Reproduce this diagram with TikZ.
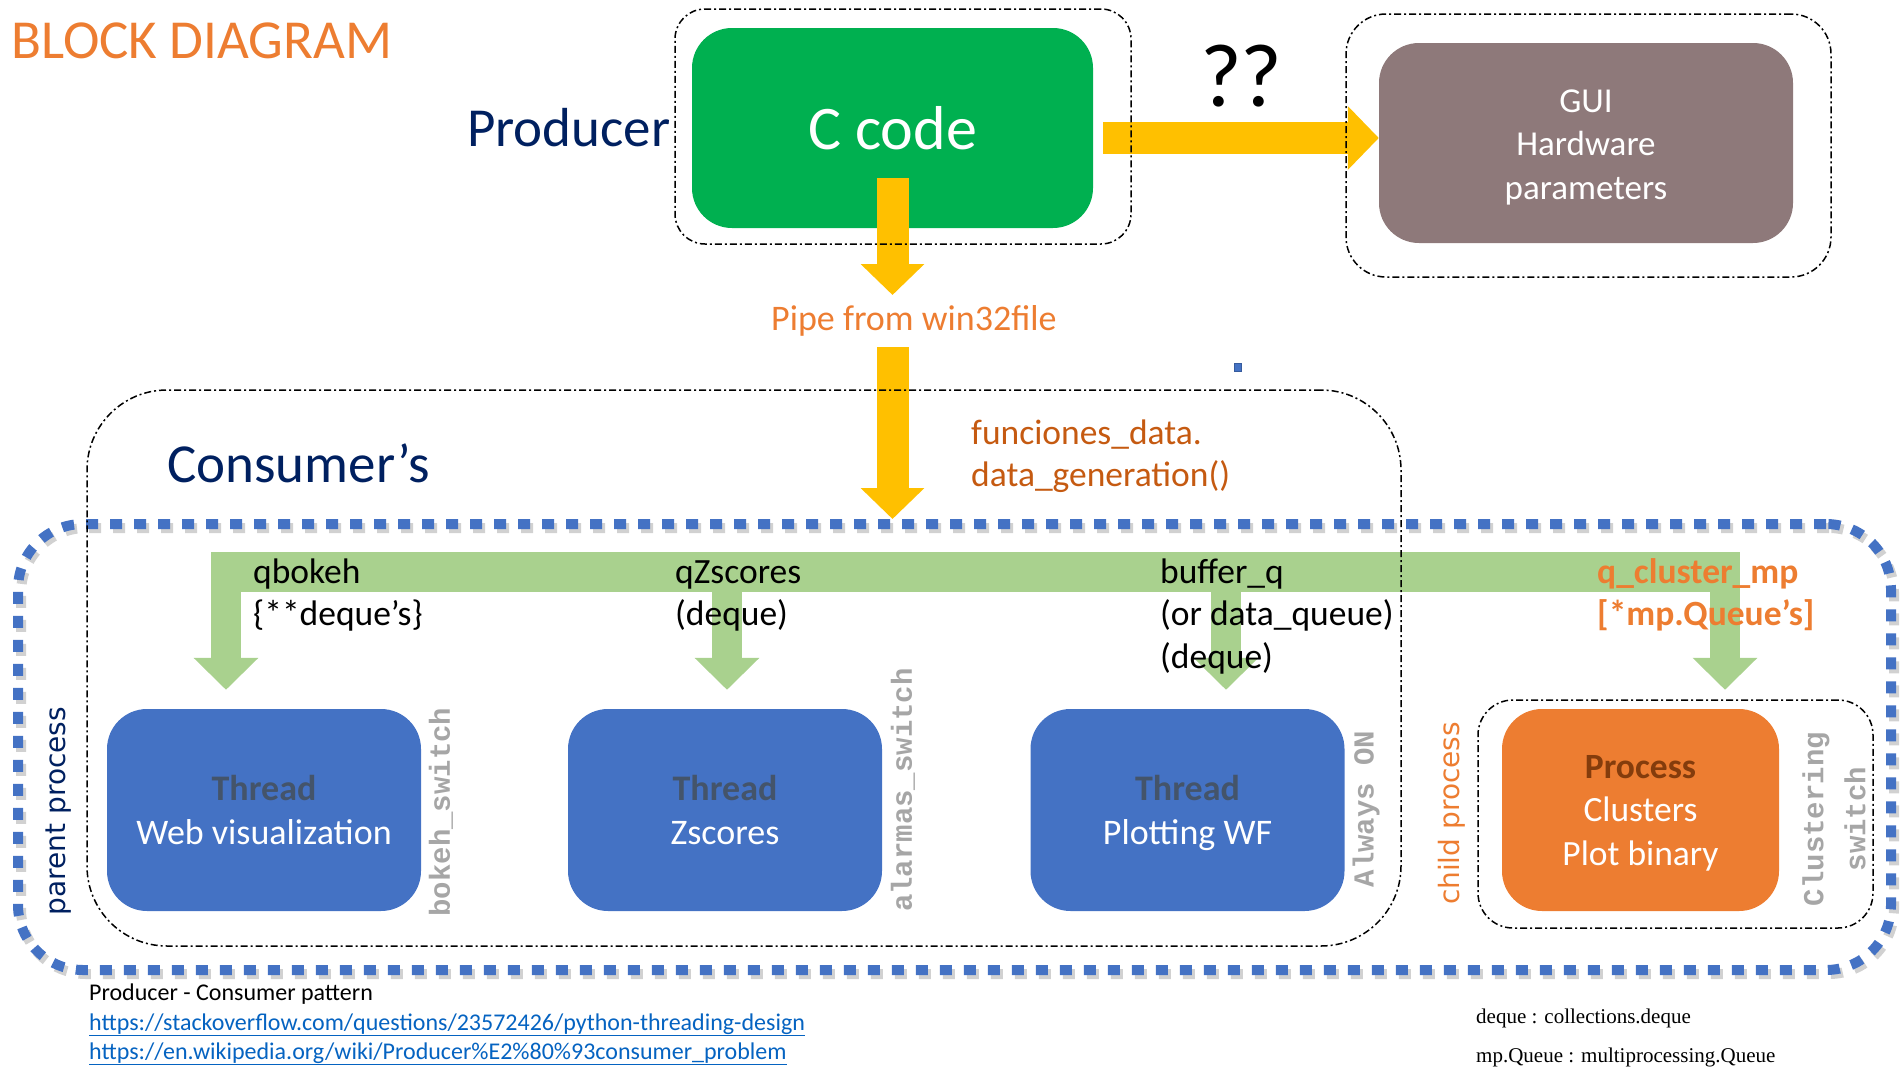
\documentclass[tikz,border=0pt]{standalone}
\usepackage{fontspec}
\setmainfont{Carlito}
\newfontfamily\monofont{Liberation Mono}
\newfontfamily\widefont{DejaVu Sans}
\newfontfamily\serifont{Liberation Serif}
\usepackage{tikz}
\usetikzlibrary{arrows.meta,positioning}

\definecolor{cgreen}{HTML}{00B050}
\definecolor{cmauve}{HTML}{8E797A}
\definecolor{cyellow}{HTML}{FFC000}
\definecolor{clgreen}{HTML}{A9D18E}
\definecolor{cblue}{HTML}{4472C4}
\definecolor{corange}{HTML}{ED7D31}
\definecolor{cdorange}{HTML}{C55A11}
\definecolor{cnavy}{HTML}{002060}
\definecolor{cslate}{HTML}{44546A}
\definecolor{cbrown}{HTML}{843C0C}
\definecolor{cswitch}{HTML}{A6A6A6}
\definecolor{clink}{HTML}{0563C1}

\newcommand{\fs}[2]{\fontsize{#1}{#2}\selectfont}

\tikzset{
  blockbox/.style={rounded corners=40pt, inner sep=0pt, text=white, align=center, font=\fs{36}{44}},
  threadbox/.style={blockbox, fill=cblue, minimum width=314pt, minimum height=202pt},
  dashbox/.style={draw, line width=1.5pt, dash pattern=on 7pt off 3pt on 2pt off 3pt, inner sep=0pt},
  parentdots/.style={draw=cblue, line width=10pt, dash pattern=on 12pt off 12pt, inner sep=0pt,
    rounded corners=65pt, preaction={draw=black!18, transform canvas={shift={(3pt,-4pt)}}}},
  yarrow/.style={draw=cyellow, line width=32pt, -{Triangle[length=31pt,width=62pt]}},
  garrow/.style={draw=clgreen, line width=30pt, -{Triangle[length=32pt,width=63pt]}},
  txt/.style={anchor=base west, inner sep=0pt},
  qlbl/.style={txt, font=\fs{35.5}{42}},
  switchlbl/.style={rotate=90, text=cswitch, font=\monofont\bfseries\fs{29}{42}, align=center, inner sep=0pt},
  proclbl/.style={rotate=90, font=\widefont\fs{28}{34}, inner sep=0pt}
}

\begin{document}
\begin{tikzpicture}[x=1pt, y=-1pt]
  \useasboundingbox (0,0) rectangle (1903,1068);

  % boxes
  \node[blockbox, fill=cgreen, minimum width=401pt, minimum height=200pt, font=\fs{62}{70}] (ccode) at (892.5,128) {C code};
  \node[blockbox, fill=cmauve, minimum width=414pt, minimum height=200pt, font=\fs{35}{43.5}] (gui) at (1586,143)
    {\rule{0pt}{31pt}GUI\\Hardware\\parameters};
  \node[threadbox] (thread1) at (264,810) {\textcolor{cslate}{\bfseries Thread}\\Web visualization};
  \node[threadbox] (thread2) at (725,810) {\textcolor{cslate}{\bfseries Thread}\\Zscores};
  \node[threadbox] (thread3) at (1187.5,810) {\textcolor{cslate}{\bfseries Thread}\\\smash{Plotting WF}};
  \node[blockbox, fill=corange, minimum width=277pt, minimum height=202pt, font=\fs{35.5}{43.5}] (proc) at (1640.5,810)
    {\textcolor{cbrown}{\bfseries Process}\\Clusters\\\smash{Plot binary}};
  \node[parentdots, minimum width=1873pt, minimum height=446pt] (parentbox) at (954.5,747) {};

  % yellow arrows
  \coordinate (pipein) at (892.5,295);
  \coordinate (pipeout) at (892.5,347);
  \draw[yarrow] ([yshift=50pt]ccode.south) -- (pipein);
  \draw[yarrow] (pipeout) -- (pipeout |- parentbox.north);
  \draw[yarrow] ([xshift=10pt,yshift=-10pt]ccode.east) -- ([yshift=5pt]gui.west);

  % green queues
  \draw[draw=clgreen, line width=40pt] (211,571.5) -- (1740,571.5);
  \foreach \x/\n in {226/thread1, 727/thread2, 1226/thread3, 1725/proc}
    \draw[garrow, shorten >=19pt] (\x,571.5) -- (\x,0 |- \n.north);

  % dashed groups
  \node[dashbox, rounded corners=30pt, minimum width=456pt, minimum height=235pt] (prodbox) at (903,126.5) {};
  \node[dashbox, rounded corners=40pt, minimum width=485pt, minimum height=263pt] (guibox) at (1588.5,145.5) {};
  \node[dashbox, rounded corners=80pt, minimum width=1314pt, minimum height=556pt] (consbox) at (744,668) {};
  \node[dashbox, rounded corners=35pt, minimum width=395pt, minimum height=228pt] (childbox) at (1675.5,814) {};
  \draw[draw=cblue!80!black, fill=cblue, line width=0.8pt] (1234,363) rectangle (1241,371);

  % labels
  \node[txt, text=corange, font=\fs{55}{60}] (title) at (11,58.5) {BLOCK DIAGRAM};
  \node[txt, text=cnavy, font=\fs{55}{60}] (producer) at (467,146) {Producer};
  \node[inner sep=0pt, font=\fs{90}{95}] (unknown) at (1241,76) {?\kern-2pt?};
  \node[txt, text=corange, font=\fs{36}{40}] (pipe) at (771,330) {Pipe from win32file};
  \node[txt, text=cnavy, font=\fs{55}{60}] (consumer) at (167,482) {Consumer’s};
  \node[txt, text=cdorange, font=\fs{35.5}{40}] (func1) at (971,444) {funciones\_data.};
  \node[txt, text=cdorange, font=\fs{35.5}{40}] (func2) at (971,486) {data\_generation()};

  \node[qlbl] (qbokeh) at (253,583) {qbokeh};
  \node[qlbl] (qbokehtype) at (253,625) {\{**deque’s\}};
  \node[qlbl] (qzscores) at (675,583) {qZscores};
  \node[qlbl] (qzscorestype) at (675,625) {(deque)};
  \node[qlbl] (buffer) at (1160,583) {buffer\_q};
  \node[qlbl] (bufferalt) at (1160,625) {(or data\_queue)};
  \node[qlbl] (buffertype) at (1160,668) {(deque)};
  \node[qlbl, text=corange, font=\fs{35.5}{42}\bfseries] (qcluster) at (1597,583) {q\_cluster\_mp};
  \node[qlbl, text=corange, font=\fs{35.5}{42}\bfseries] (qclustertype) at (1597,625) {[*mp.Queue’s]};

  \node[switchlbl] (bokehsw) at (441,812) {bokeh\_switch};
  \node[switchlbl] (alarmsw) at (903,790) {alarmas\_switch};
  \node[switchlbl] (alwayson) at (1366,809) {Always ON};
  \node[switchlbl] (clustersw) at (1834,819) {Clustering\\switch};
  \node[proclbl, text=cnavy] (parentlbl) at (59,811) {parent process};
  \node[proclbl, text=corange] (childlbl) at (1452,813.5) {child process};

  \node[txt, font=\fs{24}{26}] (pattern) at (89,1000) {Producer - Consumer pattern};
  \node[txt, text=clink, font=\fs{24}{26}] (link1) at (89,1030) {\underline{https://stackoverflow.com/questions/23572426/python-threading-design}};
  \node[txt, text=clink, font=\fs{24}{26}] (link2) at (89,1059) {\underline{https://en.wikipedia.org/wiki/Producer\%E2\%80\%93consumer\_problem}};
  \node[txt, font=\serifont\fs{21}{26}] (dequedef) at (1476,1023) {deque : collections.deque};
  \node[txt, font=\serifont\fs{21}{26}] (mpqdef) at (1476,1062) {mp.Queue : multiprocessing.Queue};
\end{tikzpicture}
\end{document}
